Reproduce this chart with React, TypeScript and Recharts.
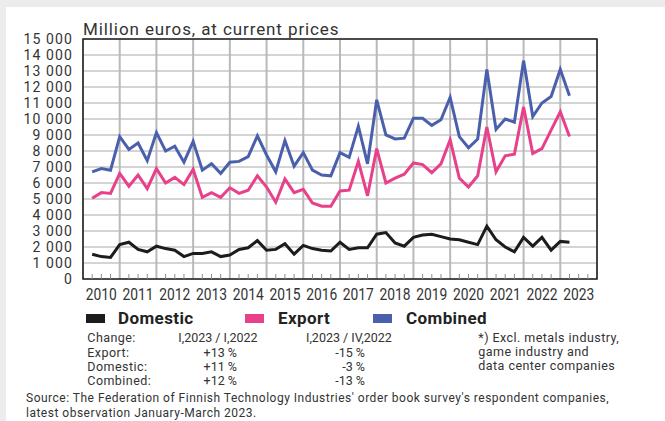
import React from 'react';
import { LineChart, Line, XAxis, YAxis, CartesianGrid, ReferenceArea } from 'recharts';

// ---- Data ----
const years = ['2010', '2011', '2012', '2013', '2014', '2015', '2016', '2017', '2018', '2019', '2020', '2021', '2022', '2023'];

const domestic = [
  1550, 1400, 1350, 2150, 2300, 1850, 1700, 2050, 1900, 1800,
  1400, 1600, 1600, 1700, 1400, 1500, 1850, 1950, 2400, 1800,
  1850, 2200, 1550, 2100, 1900, 1800, 1750, 2300, 1850, 1950,
  1950, 2800, 2900, 2250, 2050, 2600, 2750, 2800, 2650, 2500,
  2450, 2300, 2150, 3300, 2450, 2000, 1700, 2600, 2050, 2600,
  1800, 2350, 2300,
];

const exportOrders = [
  5050, 5400, 5350, 6600, 5800, 6500, 5650, 6900, 6000, 6350,
  5900, 6850, 5100, 5400, 5100, 5700, 5350, 5550, 6450, 5750,
  4800, 6250, 5400, 5600, 4750, 4550, 4550, 5500, 5550, 7350,
  5200, 8150, 6000, 6300, 6550, 7250, 7150, 6650, 7200, 8700,
  6300, 5750, 6450, 9500, 6700, 7700, 7800, 10750, 7850, 8150,
  9300, 10450, 8900,
];

const combined = [
  6700, 6900, 6800, 8900, 8100, 8500, 7400, 9150, 8000, 8300,
  7300, 8600, 6800, 7200, 6600, 7300, 7350, 7650, 8950, 7750,
  6700, 8650, 7050, 7900, 6800, 6500, 6450, 7900, 7600, 9550,
  7200, 11200, 9000, 8750, 8800, 10050, 10050, 9600, 9950, 11350,
  8900, 8200, 8750, 13100, 9350, 10000, 9800, 13650, 10150, 11000,
  11400, 13100, 11450,
];

const yTicks = [0, 1000, 2000, 3000, 4000, 5000, 6000, 7000, 8000, 9000, 10000, 11000, 12000, 13000, 14000, 15000];

const seriesNames = ['Domestic', 'Export', 'Combined'];
const seriesColors = ['#1c1c1c', '#e8408a', '#4a60ad'];

const tableRows = [
  ['Change:', 'I,2023 / I,2022', 'I,2023 / IV,2022'],
  ['Export:', '+13 %', '-15 %'],
  ['Domestic:', '+11 %', '-3 %'],
  ['Combined:', '+12 %', '-13 %'],
];
const footnote = ['*) Excl. metals industry,', 'game industry and', 'data center companies'];
const sourceLines = [
  "Source: The Federation of Finnish Technology Industries' order book survey's respondent companies,",
  'latest observation January-March 2023.',
];
const titleText = 'Million euros, at current prices';

// ---- derived ----
const quartersTotal = years.length * 4;
const data = domestic.map((d, i) => ({
  q: i + 1,
  domestic: d,
  export: exportOrders[i],
  combined: combined[i],
}));
const quarterTicks = Array.from({ length: quartersTotal + 1 }, (_, i) => i);
const yearTicks = Array.from({ length: years.length + 1 }, (_, i) => i * 4);

const TEXT = '#333333';
const MAIN = "Roboto, 'Liberation Sans', sans-serif";

const fmt = (v: number) => String(v).replace(/\B(?=(\d{3})+(?!\d))/g, ' ');

const QuarterTick = (props: any) => {
  const { x, y, payload } = props;
  const q = payload.value as number;
  const label = q % 4 === 2 ? years[Math.floor(q / 4)] : null;
  return (
    <g>
      {q % 4 !== 0 && (
        <line x1={x} x2={x} y1={y} y2={y - 5} stroke="#8c8c8c" strokeWidth={1} />
      )}
      {label && (
        <text
          x={x}
          y={y + 21}
          textAnchor="middle"
          fontFamily={MAIN}
          fontSize={16}
          textLength={31}
          lengthAdjust="spacingAndGlyphs"
          fill={TEXT}
        >
          {label}
        </text>
      )}
    </g>
  );
};

const YTick = (props: any) => {
  const { x, y, payload } = props;
  return (
    <text x={x} y={y + 5} textAnchor="end" fontFamily={MAIN} fontSize={14} letterSpacing={1.1} fill={TEXT}>
      {fmt(payload.value)}
    </text>
  );
};

const legendLayout = [
  { sq: 86, tx: 118 },
  { sq: 245, tx: 278 },
  { sq: 373, tx: 406 },
];

const abs = (left: number, top: number, extra: React.CSSProperties = {}): React.CSSProperties => ({
  position: 'absolute',
  left,
  top,
  whiteSpace: 'nowrap',
  ...extra,
});

const small: React.CSSProperties = { fontFamily: MAIN, fontSize: 12.5, lineHeight: '14px', color: TEXT };

export default function App() {
  const rowCenters = [338.3, 352.5, 366.7, 381];
  const footCenters = [337.5, 351.8, 366.1];
  const srcCenters = [398.2, 412.8];
  return (
    <div style={{ position: 'absolute', left: 0, top: 0, width: 665, height: 421, background: '#ececec', overflow: 'hidden' }}>
      <div style={{ position: 'absolute', left: 6, top: 7, width: 659, height: 414, background: '#ffffff' }} />
      <LineChart
        width={665}
        height={421}
        data={data}
        margin={{ top: 39, right: 68, bottom: 112, left: 0 }}
        style={{ position: 'absolute', left: 0, top: 0 }}
      >
        <CartesianGrid horizontal vertical={false} stroke="#a9a9a9" strokeWidth={1} />
        <CartesianGrid horizontal={false} vertical xAxisId="yr" stroke="#b9b9b9" strokeWidth={2} />
        <XAxis
          type="number"
          dataKey="q"
          domain={[0, quartersTotal]}
          ticks={quarterTicks}
          interval={0}
          tick={<QuarterTick />}
          tickSize={0}
          tickMargin={0}
          axisLine={false}
          tickLine={false}
          height={30}
        />
        <XAxis xAxisId="yr" type="number" dataKey="q" domain={[0, quartersTotal]} ticks={yearTicks} interval={0} hide />
        <YAxis
          type="number"
          domain={[0, 15000]}
          ticks={yTicks}
          interval={0}
          width={83}
          tick={<YTick />}
          tickSize={0}
          tickMargin={10}
          axisLine={false}
          tickLine={false}
        />
        <Line type="linear" dataKey="domestic" name={seriesNames[0]} stroke={seriesColors[0]} strokeWidth={3} dot={false} isAnimationActive={false} />
        <Line type="linear" dataKey="export" name={seriesNames[1]} stroke={seriesColors[1]} strokeWidth={3} dot={false} isAnimationActive={false} />
        <Line type="linear" dataKey="combined" name={seriesNames[2]} stroke={seriesColors[2]} strokeWidth={3} dot={false} isAnimationActive={false} />
        <ReferenceArea x1={0} x2={quartersTotal} y1={0} y2={15000} fill="none" stroke="#1e1e1e" strokeWidth={1.5} ifOverflow="visible" />
      </LineChart>

      <div style={abs(83, 28.5 - 10, { fontFamily: MAIN, fontSize: 17, lineHeight: '20px', color: TEXT, letterSpacing: 0.9 })}>
        {titleText}
      </div>

      {seriesNames.map((n, i) => (
        <React.Fragment key={n}>
          <div style={abs(legendLayout[i].sq, 313.5, { width: 18.5, height: 9.5, background: seriesColors[i] })} />
          <div style={abs(legendLayout[i].tx, 318.3 - 10, { fontFamily: MAIN, fontWeight: 700, fontSize: 17, lineHeight: '20px', color: '#222', letterSpacing: 0.4 })}>
            {n}
          </div>
        </React.Fragment>
      ))}

      {tableRows.map((r, i) => (
        <React.Fragment key={r[0]}>
          <div style={abs(87.3, rowCenters[i] - 7, { ...small, letterSpacing: 0.45 })}>{r[0]}</div>
          {i === 0 ? (
            <>
              <div style={abs(178.3, rowCenters[i] - 7, small)}>{r[1]}</div>
              <div style={abs(306, rowCenters[i] - 7, small)}>{r[2]}</div>
            </>
          ) : (
            <>
              <div style={abs(137, rowCenters[i] - 7, { ...small, width: 100, textAlign: 'right' })}>{r[1]}</div>
              <div style={abs(265, rowCenters[i] - 7, { ...small, width: 100, textAlign: 'right' })}>{r[2]}</div>
            </>
          )}
        </React.Fragment>
      ))}

      {footnote.map((t, i) => (
        <div key={t} style={abs(478.3, footCenters[i] - 7, { ...small, letterSpacing: 0.45 })}>{t}</div>
      ))}

      {sourceLines.map((t, i) => (
        <div key={t} style={abs(26, srcCenters[i] - 7, { ...small, fontSize: 12, lineHeight: '14px', letterSpacing: 0.5 })}>{t}</div>
      ))}
    </div>
  );
}
